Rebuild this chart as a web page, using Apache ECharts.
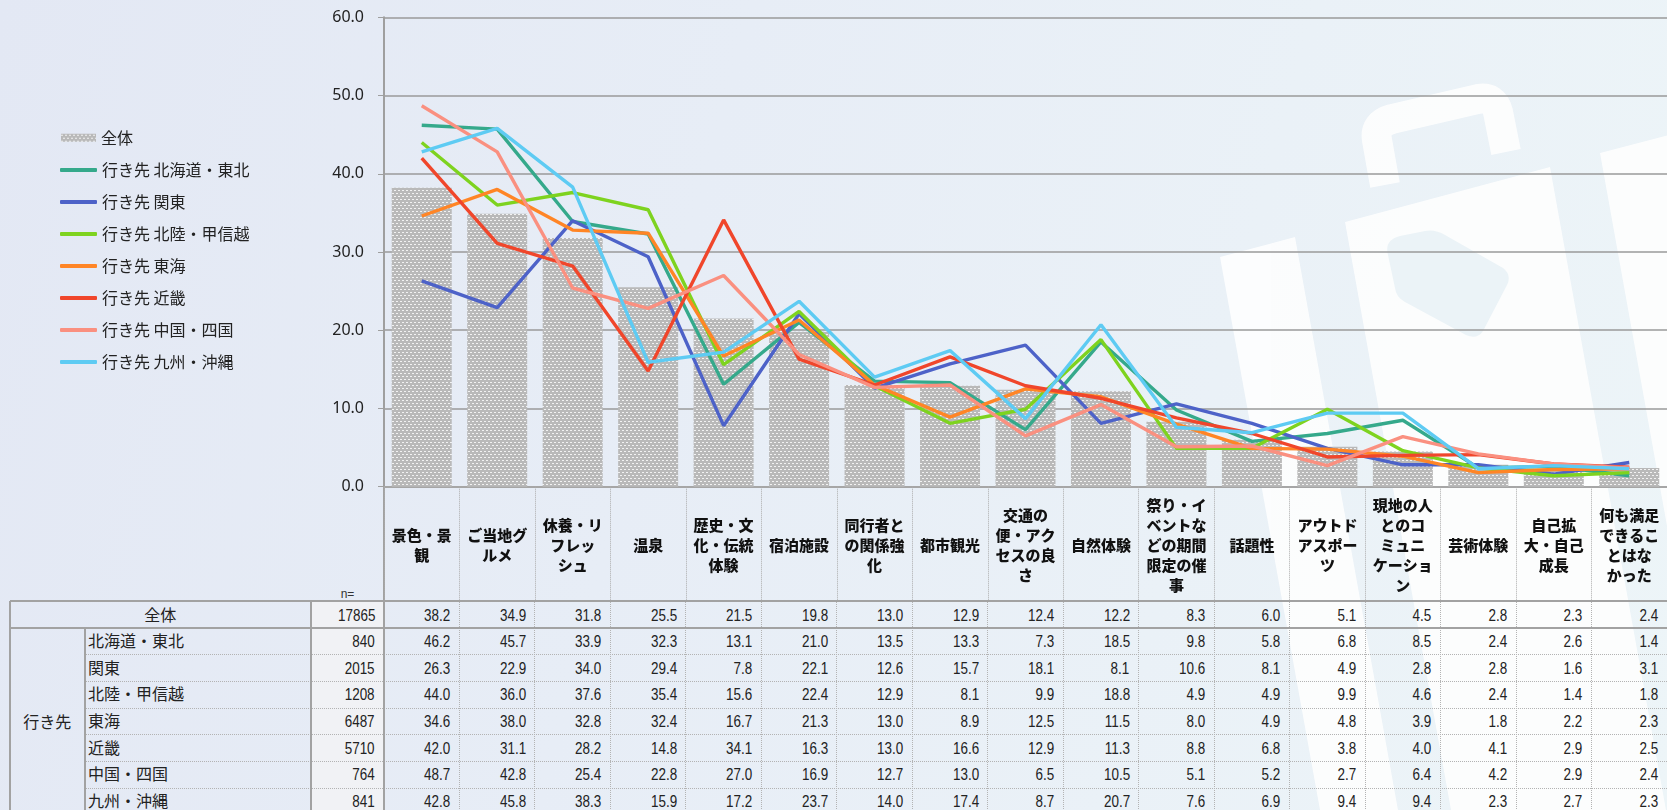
<!DOCTYPE html>
<html><head><meta charset="utf-8">
<script src="https://cdn.jsdelivr.net/npm/echarts@6/dist/echarts.min.js"></script>
<style>
html,body{margin:0;padding:0;width:1667px;height:810px;overflow:hidden;}
body{background:linear-gradient(105deg,#e3e8f4 0%,#e7edf6 40%,#edf5f8 100%);position:relative;font-family:"Noto Sans CJK JP",sans-serif;}
#wm{position:absolute;left:0;top:0;}
#tbl{position:absolute;left:0;top:0;width:1667px;height:810px;}
#chart{position:absolute;left:0;top:0;width:1667px;height:810px;}
.c{position:absolute;box-sizing:border-box;white-space:nowrap;overflow:visible;}
.num{font-family:"Liberation Sans",sans-serif;font-size:16px;color:#222;text-align:right;padding-right:9px;}
.num span{display:inline-block;transform:scaleX(0.84);transform-origin:right center;}
.lab{font-family:"Noto Sans CJK JP",sans-serif;font-size:16px;color:#222;}
</style></head>
<body>
<svg id="wm" width="1667" height="810">
  <g fill="#ffffff" opacity="0.85">
    <polygon points="1220,257 1295,237 1398,810 1320,810"/>
    <polygon points="1345,222 1550,167 1666,810 1451,810"/>
    <polygon points="1600,153 1680,132 1800,810 1718,810"/>
    <path d="M1385,185 L1377,140 Q1374,124 1392,119 L1478,99 Q1494,96 1498,112 L1506,152" fill="none" stroke="#ffffff" stroke-width="30" stroke-linejoin="round"/>
  </g>
  <path d="M1388,255 Q1384,240 1400,236 L1425,231 Q1435,229 1445,235 L1503,268 Q1512,275 1507,285 L1483,331 Q1477,340 1466,335 L1405,302 Q1396,297 1395,288 Z" fill="#ebf3f7"/>
</svg>
<div id="tbl"></div>
<div id="chart"></div>
<script>
// ---- data ----
const categories = ['景色・景観','ご当地グルメ','休養・リフレッシュ','温泉','歴史・文化・伝統体験','宿泊施設','同行者との関係強化','都市観光','交通の便・アクセスの良さ','自然体験','祭り・イベントなどの期間限定の催事','話題性','アウトドアスポーツ','現地の人とのコミュニケーション','芸術体験','自己拡大・自己成長','何も満足できることはなかった'];
const tickLabels = ['景色・景\n観','ご当地グ\nルメ','休養・リ\nフレッ\nシュ','温泉','歴史・文\n化・伝統\n体験','宿泊施設','同行者と\nの関係強\n化','都市観光','交通の\n便・アク\nセスの良\nさ','自然体験','祭り・イ\nベントな\nどの期間\n限定の催\n事','話題性','アウトド\nアスポー\nツ','現地の人\nとのコ\nミュニ\nケーショ\nン','芸術体験','自己拡\n大・自己\n成長','何も満足\nできるこ\nとはな\nかった'];

const overallName = '全体';
const overallN = 17865;
const overall = [38.2,34.9,31.8,25.5,21.5,19.8,13.0,12.9,12.4,12.2,8.3,6.0,5.1,4.5,2.8,2.3,2.4];

const groupLabel = '行き先';
const regionNames = ['北海道・東北','関東','北陸・甲信越','東海','近畿','中国・四国','九州・沖縄'];
const regionN = [840,2015,1208,6487,5710,764,841];
const hokkaidoTohoku = [46.2,45.7,33.9,32.3,13.1,21.0,13.5,13.3,7.3,18.5,9.8,5.8,6.8,8.5,2.4,2.6,1.4];
const kanto          = [26.3,22.9,34.0,29.4,7.8,22.1,12.6,15.7,18.1,8.1,10.6,8.1,4.9,2.8,2.8,1.6,3.1];
const hokurikuKoshinetsu = [44.0,36.0,37.6,35.4,15.6,22.4,12.9,8.1,9.9,18.8,4.9,4.9,9.9,4.6,2.4,1.4,1.8];
const tokai          = [34.6,38.0,32.8,32.4,16.7,21.3,13.0,8.9,12.5,11.5,8.0,4.9,4.8,3.9,1.8,2.2,2.3];
const kinki          = [42.0,31.1,28.2,14.8,34.1,16.3,13.0,16.6,12.9,11.3,8.8,6.8,3.8,4.0,4.1,2.9,2.5];
const chugokuShikoku = [48.7,42.8,25.4,22.8,27.0,16.9,12.7,13.0,6.5,10.5,5.1,5.2,2.7,6.4,4.2,2.9,2.4];
const kyushuOkinawa  = [42.8,45.8,38.3,15.9,17.2,23.7,14.0,17.4,8.7,20.7,7.6,6.9,9.4,9.4,2.3,2.7,2.3];
const regionValues = [hokkaidoTohoku,kanto,hokurikuKoshinetsu,tokai,kinki,chugokuShikoku,kyushuOkinawa];
const lineColors = ['#35a98b','#4d62c8','#7ed31f','#ff8526','#f0462b','#fa9080','#5ecbf3'];

// ---- bar pattern ----
const pc = document.createElement('canvas');
pc.width = 4; pc.height = 6;
const pctx = pc.getContext('2d');
pctx.fillStyle = '#b9b9b9'; pctx.fillRect(0,0,4,6);
pctx.fillStyle = '#f2f2f2';
pctx.fillRect(0,1,2,1); pctx.fillRect(2,4,2,1);

const chart = echarts.init(document.getElementById('chart'), null, {renderer:'canvas'});
const lineNames = regionNames.map(r => groupLabel + ' ' + r);
const series = [{
  name: overallName, type:'bar', data: overall, barWidth: 60,
  itemStyle:{color:{image: pc, repeat:'repeat'}}, z:1
}];
regionNames.forEach((r,i)=>{
  series.push({
    name: lineNames[i], type:'line', data: regionValues[i],
    symbol:'none', lineStyle:{width:3.4, color: lineColors[i]}, itemStyle:{color: lineColors[i]}, z: 3
  });
});
const legendText = {fontSize:16, color:'#222', fontFamily:'Noto Sans CJK JP', lineHeight:20};
chart.setOption({
  animation:false,
  grid:{left:384, top:17.3, width:1287, height:469.4, containLabel:false},
  legend:[{
    orient:'vertical', left:61, top:127.7, padding:0, itemWidth:35, itemHeight:8, itemGap:12,
    selectedMode:false, icon:'rect', textStyle:legendText,
    data:[overallName]
  },{
    orient:'vertical', left:60, top:159.9, padding:0, itemWidth:37, itemHeight:4, itemGap:12,
    selectedMode:false, icon:'roundRect', textStyle:legendText,
    data: lineNames
  }],
  xAxis:{
    type:'category', data: tickLabels, boundaryGap:true,
    axisLine:{show:true, lineStyle:{color:'#a6a6a6', width:2}},
    axisTick:{show:true, length:114, lineStyle:{color:'#ababab', type:'dotted', width:1}},
    axisLabel:{interval:0, margin:59, verticalAlign:'middle', fontSize:15, fontWeight:900, color:'#111', lineHeight:20, fontFamily:'Noto Sans CJK JP'},
    splitLine:{show:false}
  },
  yAxis:{
    type:'value', min:0, max:60, interval:10,
    axisLine:{show:true, lineStyle:{color:'#9f9f9f', width:2}},
    axisTick:{show:true, length:6, lineStyle:{color:'#9f9f9f'}},
    axisLabel:{margin:20, fontSize:16, color:'#222', fontFamily:'Noto Sans', formatter:v=>v.toFixed(1)},
    splitLine:{show:true, lineStyle:{color:'#9a9a9a', width:1.5}}
  },
  series: series
});

// ---- table ----
const tbl = document.getElementById('tbl');
function div(cls, css, text, wrap){
  const d = document.createElement('div');
  d.className = 'c ' + (cls||'');
  Object.assign(d.style, css);
  if(text!==undefined){
    if(wrap){ const s=document.createElement('span'); s.textContent=text; d.appendChild(s); }
    else d.textContent = text;
  }
  tbl.appendChild(d);
  return d;
}
const colW = chart.convertToPixel({xAxisIndex:0}, 1) - chart.convertToPixel({xAxisIndex:0}, 0);
const colLeft = i => chart.convertToPixel({xAxisIndex:0}, i) - colW/2;
const axisY = chart.convertToPixel({yAxisIndex:0}, 0);
const dataLeft = colLeft(0);
const tableRight = colLeft(categories.length);
const T0 = 601, R0 = 27, RH = 26.67, TL = 9.5, GX = 85, NX = 311;
const rowTop = r => r===0 ? T0 : T0 + R0 + (r-1)*RH;
const rowH = r => r===0 ? R0 : RH;
const nRows = regionNames.length + 1;
const bottom = rowTop(nRows);

div('', {left:NX+'px', top:T0+'px', width:(dataLeft-NX)+'px', height:(bottom-T0)+'px', background:'rgba(242,243,245,0.9)'});
div('', {left:NX+'px', top:'587px', width:(dataLeft-NX)+'px', textAlign:'center', fontFamily:'Liberation Sans, sans-serif', fontSize:'12px', color:'#333'}, 'n=');

for(let r=0;r<nRows;r++){
  const top = rowTop(r), h = rowH(r);
  const vals = r===0 ? overall : regionValues[r-1];
  const n = r===0 ? overallN : regionN[r-1];
  if(r===0){
    div('lab', {left:TL+'px', top:top+'px', width:(NX-TL)+'px', height:h+'px', lineHeight:h+'px', textAlign:'center'}, overallName);
  } else {
    div('lab', {left:(GX+3)+'px', top:top+'px', height:h+'px', lineHeight:(h-2)+'px'}, regionNames[r-1]);
  }
  div('num', {left:NX+'px', top:top+'px', width:(dataLeft-NX)+'px', height:h+'px', lineHeight:(h+2)+'px'}, String(n), true);
  vals.forEach((v,i)=>{
    div('num', {left:colLeft(i)+'px', top:top+'px', width:colW+'px', height:h+'px', lineHeight:(h+2)+'px'}, v.toFixed(1), true);
  });
}
div('lab', {left:TL+'px', top:rowTop(1)+'px', width:(GX-TL)+'px', height:(bottom-rowTop(1))+'px', display:'flex', alignItems:'center', justifyContent:'center'}, groupLabel);

const solid = '#a2a2a2', dotted = '#b3b3b3';
function hline(y,x1,x2,w,style,col){ div('', {left:x1+'px', top:(y-w/2)+'px', width:(x2-x1)+'px', height:'0px', borderTop:w+'px '+style+' '+col}); }
function vline(x,y1,y2,w,style,col){ div('', {left:(x-w/2)+'px', top:y1+'px', width:'0px', height:(y2-y1)+'px', borderLeft:w+'px '+style+' '+col}); }
for(let r=2;r<nRows;r++) hline(rowTop(r), GX, tableRight, 1, 'dotted', dotted);
for(let i=1;i<categories.length;i++) vline(colLeft(i), T0, bottom, 1, 'dotted', dotted);
hline(T0, TL, tableRight, 2, 'solid', solid);
hline(rowTop(1), TL, tableRight, 2, 'solid', solid);
vline(TL, T0, bottom, 2, 'solid', solid);
vline(GX, rowTop(1), bottom, 2, 'solid', solid);
vline(NX, T0, bottom, 2, 'solid', solid);
vline(dataLeft, axisY, bottom, 2, 'solid', solid);
</script>
</body></html>
